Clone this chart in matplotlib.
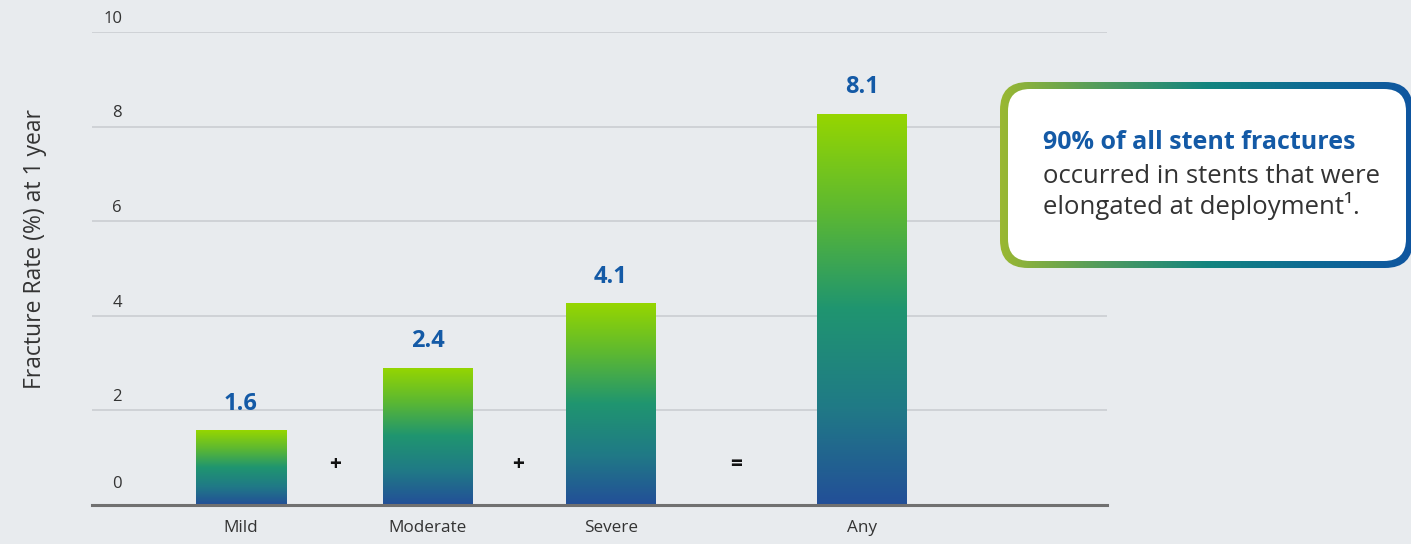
import numpy as np
import matplotlib
matplotlib.use("Agg")
import matplotlib.pyplot as plt
from matplotlib.colors import LinearSegmentedColormap
from matplotlib.patches import FancyBboxPatch
import matplotlib.transforms as mtransforms

# ---- data ----
categories = ["Mild", "Moderate", "Severe", "Any"]
bar_heights = [1.58, 2.9, 4.27, 8.27]          # heights as drawn in the picture
value_labels = ["1.6", "2.4", "4.1", "8.1"]
operators = ["+", "+", "="]
y_ticks = [0, 2, 4, 6, 8, 10]
y_label = "Fracture Rate (%) at 1 year"
callout_bold = "90% of all stent fractures"
callout_lines = ["occurred in stents that were", "elongated at deployment¹."]

# ---- layout ----
positions = [1.49, 3.36, 5.19, 7.70]
op_positions = [2.43, 4.26, 6.44]
bar_width = 0.9

plt.rcParams['font.family'] = ['Open Sans', 'DejaVu Sans']
BG = "#e8ebee"
TXT = "#333333"
BLUE = "#145aa6"

W, H = 1411, 544
fig = plt.figure(figsize=(W / 100, H / 100), dpi=100, facecolor=BG)
ax = fig.add_axes([92 / W, 39 / H, 1015 / W, 473 / H], facecolor=BG)
ax.set_xlim(0, 10.15)
ax.set_ylim(0, 10)

# grid lines
for v in y_ticks[1:]:
    ax.axhline(v, color="#c8cbcf", lw=1.1, zorder=1)
for s in ["top", "right", "left"]:
    ax.spines[s].set_visible(False)
ax.spines["bottom"].set_color("#707070")
ax.spines["bottom"].set_linewidth(2.2)
ax.spines["bottom"].set_zorder(5)
ax.set_yticks([])

# bars with vertical gradient
cmap = LinearSegmentedColormap.from_list(
    "g", ["#234f98", "#207a86", "#1f9570", "#5cb832", "#96d600"])
grad = np.linspace(0, 1, 256).reshape(-1, 1)
bars = ax.bar(positions, bar_heights, width=bar_width, facecolor="none",
              edgecolor="none", zorder=3)
for b in bars:
    x0, w, h = b.get_x(), b.get_width(), b.get_height()
    im = ax.imshow(grad, extent=[x0, x0 + w, 0, h], origin="lower",
                   aspect="auto", cmap=cmap, zorder=3)
    im.set_clip_path(b)
ax.set_xlim(0, 10.15)
ax.set_ylim(0, 10)

# value labels
for x, h, lab in zip(positions, bar_heights, value_labels):
    ax.annotate(lab, (x, h), xytext=(0, 19), textcoords="offset points",
                ha="center", va="center", fontsize=17, fontweight="bold",
                color=BLUE)

# operators
for x, op in zip(op_positions, operators):
    ax.text(x, 0.85, op, ha="center", va="center", fontsize=15,
            fontweight="bold", color="#111111")

# y tick labels (drawn above gridlines)
trans = mtransforms.blended_transform_factory(ax.transAxes, ax.transData)
for v in y_ticks:
    off = 0.45 if v == 0 else 0.28
    ax.text(0.0296, v + off, str(v), transform=trans, ha="right",
            va="center", fontsize=12, color=TXT)

# category labels
ax.set_xticks(positions, categories)
ax.tick_params(axis="x", length=0, pad=11, labelsize=12.3, labelcolor=TXT)

fig.text(35 / W, 1 - 249 / H, y_label, rotation=90, ha="center",
         va="center", fontsize=16.5, color=TXT)

# callout box
ov = fig.add_axes([0, 0, 1, 1], facecolor="none")
ov.set_xlim(0, W)
ov.set_ylim(H, 0)
ov.axis("off")
outer = FancyBboxPatch((1000, 82), 413, 186,
                       boxstyle="round,pad=0,rounding_size=28",
                       facecolor="none", edgecolor="none")
ov.add_patch(outer)
bcmap = LinearSegmentedColormap.from_list(
    "b", ["#9ab832", "#4f9a5e", "#13857e", "#0d6a94", "#0f55a0"])
hgrad = np.linspace(0, 1, 256).reshape(1, -1)
im2 = ov.imshow(hgrad, extent=[1000, 1413, 268, 82], cmap=bcmap,
                aspect="auto", zorder=2)
im2.set_clip_path(outer)
inner = FancyBboxPatch((1008, 89), 398, 172,
                       boxstyle="round,pad=0,rounding_size=22",
                       facecolor="white", edgecolor="none", zorder=3)
ov.add_patch(inner)
ov.set_xlim(0, W)
ov.set_ylim(H, 0)

ov.text(1043, 149, callout_bold, ha="left", va="baseline", fontsize=18,
        fontweight="bold", color=BLUE, zorder=4)
for i, line in enumerate(callout_lines):
    ov.text(1043, 183 + 31 * i, line, ha="left", va="baseline",
            fontsize=18.5, color=TXT, zorder=4)

fig.savefig("out.png", dpi=100, facecolor=BG)
